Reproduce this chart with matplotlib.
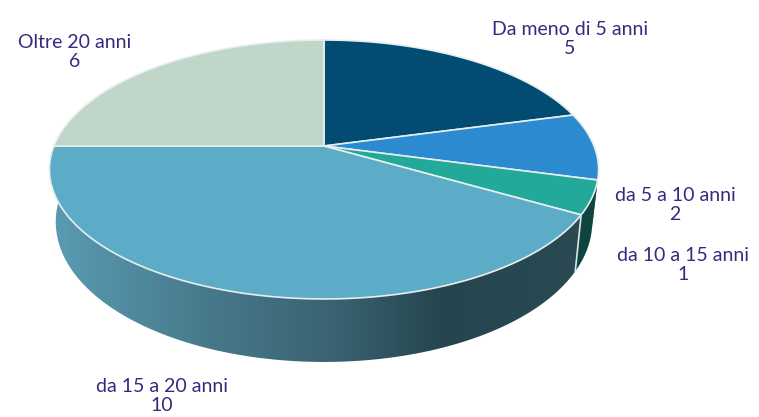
import numpy as np
import matplotlib
matplotlib.use("Agg")
import matplotlib.pyplot as plt
from matplotlib.colors import LinearSegmentedColormap
from matplotlib.patches import Polygon

categories = ["Da meno di 5 anni", "da 5 a 10 anni", "da 10 a 15 anni", "da 15 a 20 anni", "Oltre 20 anni"]
values = [5, 2, 1, 10, 6]

top_colors = ["#024c73", "#2b8ad0", "#22a99a", "#5cacc8", "#bfd6c9"]
label_pos = [(570, 39), (675, 205), (683, 265), (162, 396), (75, 52)]

# perspective of the tilted disc, in pixels
cx, cy = 324, 146
X, A, k = 270, 125.2, 0.1815


def top_xy(theta):
    u, v = np.sin(theta), np.cos(theta)
    d = 1 + k * v
    return cx + X * u / d, cy - A * v / d


def low_xy(theta):
    x, y = top_xy(theta)
    return cx + (x - cx) * 0.977, y + 50 - 13 * np.cos(theta)


plt.rcParams['font.family'] = ['Lato', 'DejaVu Sans']
fig = plt.figure(figsize=(7.59, 4.17), dpi=100)
ax = fig.add_axes([0, 0, 1, 1])
ax.set_xlim(0, 759)
ax.set_ylim(417, 0)
ax.axis('off')

edges = np.radians(np.concatenate([[0], np.cumsum(values)]) / sum(values) * 360)

# side wall, only the front slices can be seen
side = LinearSegmentedColormap.from_list("side", [(0, "#5a9cb4"), (0.3, "#47788a"), (0.52, "#3a6373"),
                                                  (0.72, "#26464f"), (1, "#2b4a53")])
for i in [1, 2, 3]:
    t = np.linspace(edges[i], edges[i + 1], 120)
    xt, yt = top_xy(t)
    xl, yl = low_xy(t[::-1])
    pts = np.column_stack([np.r_[xt, xl], np.r_[yt, yl]])
    if i == 3:
        poly = Polygon(pts, fc='none', ec='none')
        ax.add_patch(poly)
        im = ax.imshow(np.linspace(0, 1, 256)[None, :], cmap=side, extent=(50, 590, 417, 0), aspect='auto')
        im.set_clip_path(poly)
    else:
        ax.add_patch(Polygon(pts, fc="#0f4540", ec='none'))

# white seam between front slices on the wall
x0, y0 = top_xy(edges[3])
x1, y1 = low_xy(edges[3])
ax.plot([x0, x1], [y0, y1], color="#dfe6e6", lw=1.2)
ax.set_xlim(0, 759)
ax.set_ylim(417, 0)

# top of the disc
for i in range(len(values)):
    t = np.linspace(edges[i], edges[i + 1], 120)
    xt, yt = top_xy(t)
    ax.add_patch(Polygon(np.column_stack([np.r_[cx, xt], np.r_[cy, yt]]), fc=top_colors[i], ec="#e6eeee", lw=1.2,
                         joinstyle='round'))

for name, val, (lx, ly) in zip(categories, values, label_pos):
    ax.text(lx, ly, "{}\n{}".format(name, val), color="#38297f", fontsize=14, ha='center', va='center',
            linespacing=1.15, clip_on=False)

fig.savefig("out.png", dpi=100)
